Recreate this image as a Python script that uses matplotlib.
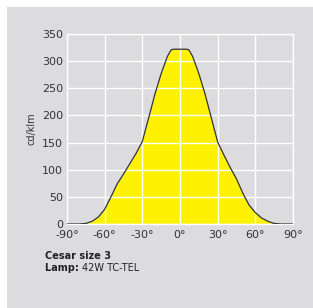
import matplotlib
matplotlib.use('Agg')
import matplotlib.pyplot as plt
from matplotlib.patches import Rectangle

# Light distribution curve (angle in degrees, cd/klm)
angles = [-90, -80, -75, -70, -65, -60, -55, -50, -45, -40, -35, -30, -25, -20,
          -15, -10, -7, -5, 0, 5, 7, 10, 15, 20, 25, 30, 35, 40, 45, 50, 55, 60,
          65, 70, 75, 80, 90]
values = [0, 0, 1, 5, 13, 27, 50, 74, 92, 111, 130, 152, 195, 239,
          277, 309, 321, 322, 322, 322, 321, 309, 277, 239, 195, 151, 127, 104, 83, 57, 35, 21,
          11, 5, 1, 0, 0]

x_ticks = [-90, -60, -30, 0, 30, 60, 90]
x_labels = ['-90°', '-60°', '-30°', '0°', '30°', '60°', '90°']
y_ticks = [0, 50, 100, 150, 200, 250, 300, 350]

title = 'Cesar size 3'
lamp_label = 'Lamp: '
lamp_value = '42W TC-TEL'

bg = '#dcdcde'
text_col = '#333333'

fig = plt.figure(figsize=(3.13, 3.08), dpi=100)
fig.patch.set_facecolor('white')
# grey panel with a thin white margin on top and left
fig.add_artist(Rectangle((7 / 313, 0), 1, 1 - 7 / 308, transform=fig.transFigure,
                         facecolor=bg, edgecolor='none', zorder=-5))

ax = fig.add_axes([67 / 313, 1 - 224 / 308, 226 / 313, 190 / 308])
ax.set_zorder(2)
ax.set_facecolor(bg)
ax.fill_between(angles, values, 0, color='#fff200', zorder=2, linewidth=0)
ax.plot(angles, values, color='#333333', linewidth=0.9, zorder=4)

ax.set_xlim(-90, 90)
ax.set_ylim(0, 350)
ax.set_xticks(x_ticks)
ax.set_xticklabels(x_labels)
ax.set_yticks(y_ticks)
ax.grid(True, color='white', linewidth=1.0, zorder=3)
ax.set_axisbelow(False)
for s in ax.spines.values():
    s.set_color('white')
    s.set_linewidth(1.0)
    s.set_zorder(3)
ax.tick_params(length=0, labelsize=8, colors=text_col)
ax.tick_params(axis='x', pad=4)
ax.tick_params(axis='y', pad=3)
ax.set_ylabel('cd/klm', fontsize=7, color=text_col, labelpad=4)

fig.text(45 / 313, 1 - 256 / 308, title, fontsize=7, fontweight='bold',
         color='#222222', va='center', ha='left')
t = fig.text(45 / 313, 1 - 268 / 308, lamp_label, fontsize=7, fontweight='bold',
             color='#222222', va='center', ha='left')
fig.canvas.draw()
bb = t.get_window_extent()
fig.text(bb.x1 / fig.bbox.width, 1 - 268 / 308, lamp_value, fontsize=7,
         color='#222222', va='center', ha='left')

fig.savefig('out.png', dpi=100, facecolor=fig.get_facecolor())
